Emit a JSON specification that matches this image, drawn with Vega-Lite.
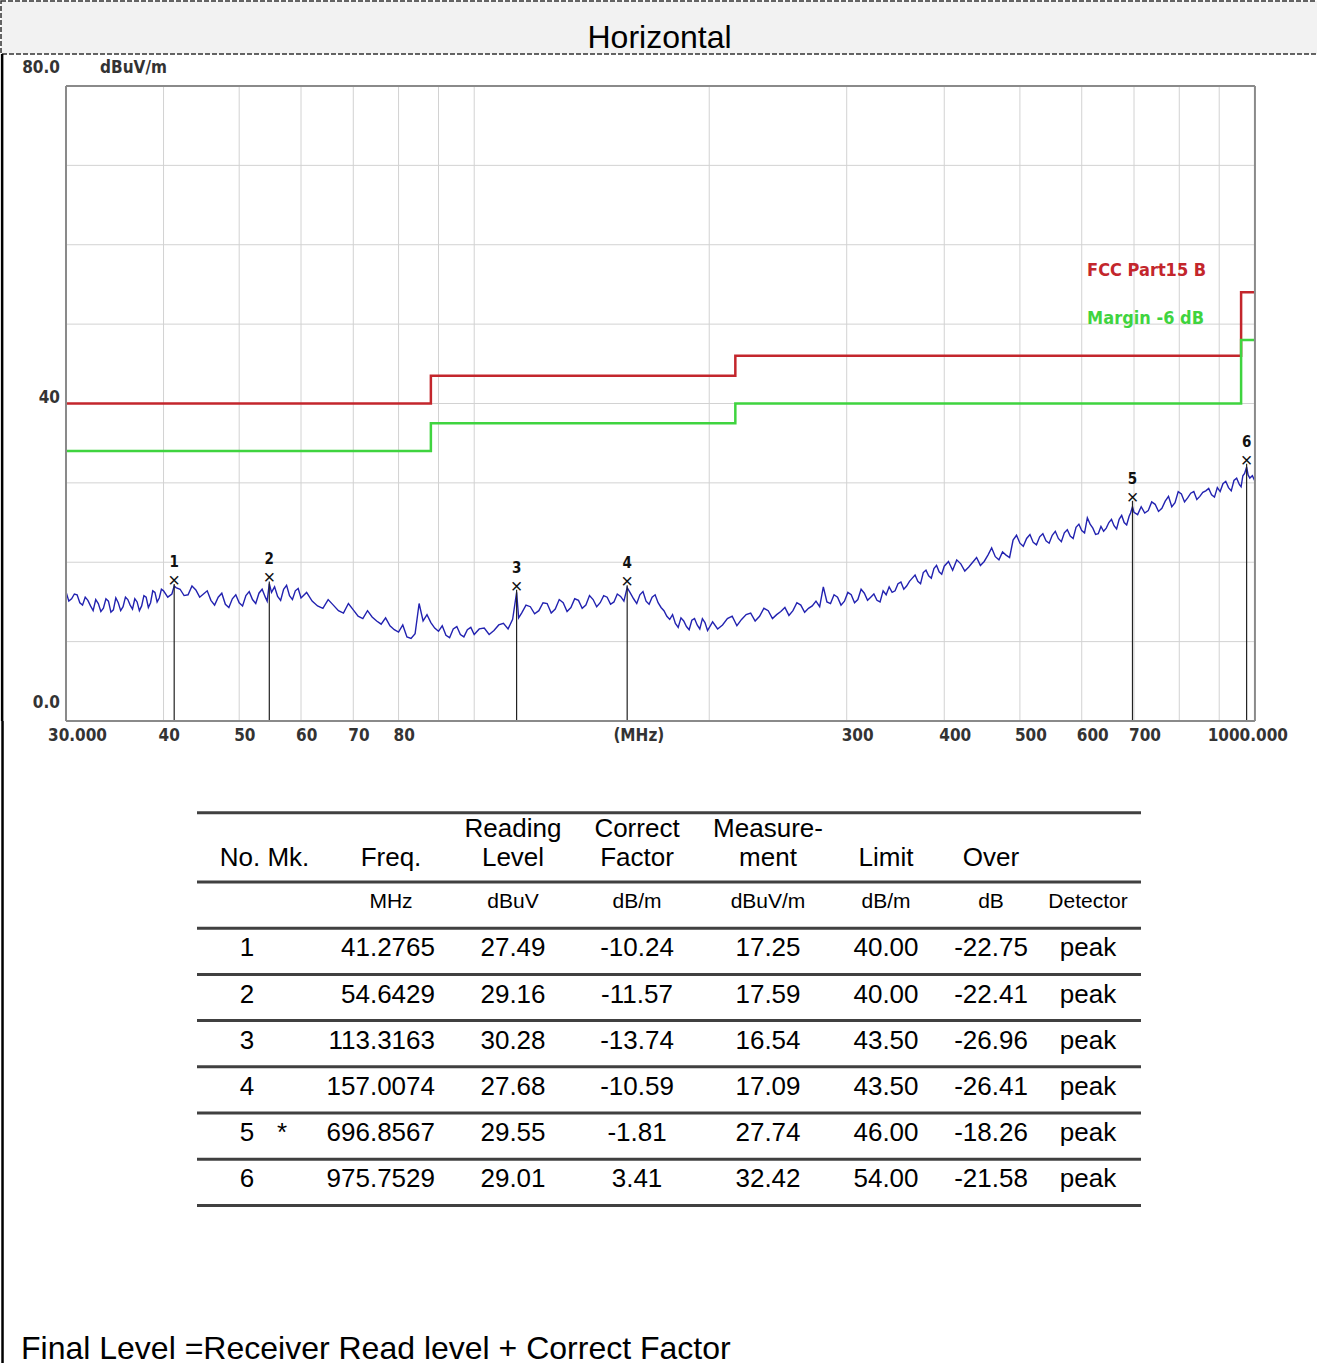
{
  "$schema": "https://vega.github.io/schema/vega-lite/v6.json",
  "padding": 0,
  "background": "white",
  "spacing": 0,
  "bounds": "flush",
  "config": {"view": {"stroke": null}, "font": "Liberation Sans"},
  "datasets": {
    "hgrid": [{"f": 30, "f2": 1000, "v": 10}, {"f": 30, "f2": 1000, "v": 20}, {"f": 30, "f2": 1000, "v": 30}, {"f": 30, "f2": 1000, "v": 40}, {"f": 30, "f2": 1000, "v": 50}, {"f": 30, "f2": 1000, "v": 60}, {"f": 30, "f2": 1000, "v": 70}],
    "vgrid": [{"f": 40, "v": 0, "v2": 80}, {"f": 50, "v": 0, "v2": 80}, {"f": 60, "v": 0, "v2": 80}, {"f": 70, "v": 0, "v2": 80}, {"f": 80, "v": 0, "v2": 80}, {"f": 90, "v": 0, "v2": 80}, {"f": 100, "v": 0, "v2": 80}, {"f": 200, "v": 0, "v2": 80}, {"f": 300, "v": 0, "v2": 80}, {"f": 400, "v": 0, "v2": 80}, {"f": 500, "v": 0, "v2": 80}, {"f": 600, "v": 0, "v2": 80}, {"f": 700, "v": 0, "v2": 80}, {"f": 800, "v": 0, "v2": 80}, {"f": 900, "v": 0, "v2": 80}],
    "frame": [
      {"f": 30, "f2": 1000, "v": 80, "v2": 80},
      {"f": 30, "f2": 1000, "v": 0, "v2": 0},
      {"f": 30, "f2": 30, "v": 0, "v2": 80},
      {"f": 1000, "f2": 1000, "v": 0, "v2": 80}
    ],
    "limits": [
      {"f": 30, "lim": 40, "mar": 34},
      {"f": 88, "lim": 43.5, "mar": 37.5},
      {"f": 216, "lim": 46, "mar": 40},
      {"f": 960, "lim": 54, "mar": 48},
      {"f": 1000, "lim": 54, "mar": 48}
    ],
    "legend": [
      {"f": 609.6, "v": 56.7, "t": "FCC Part15 B"},
      {"f": 609.6, "v": 50.6, "t": "Margin -6 dB"}
    ],
    "markers": [
      {"no": 1, "f": 41.2765, "v": 17.25, "base": 0},
      {"no": 2, "f": 54.6429, "v": 17.59, "base": 0},
      {"no": 3, "f": 113.3163, "v": 16.54, "base": 0},
      {"no": 4, "f": 157.0074, "v": 17.09, "base": 0},
      {"no": 5, "f": 696.8567, "v": 27.74, "base": 0},
      {"no": 6, "f": 975.7529, "v": 32.42, "base": 0}
    ],
    "trace": [
      {"f":30,"v":16.3},{"f":30.25,"v":15.1},{"f":30.5,"v":15.4},{"f":30.75,"v":16.0},{"f":31,"v":15.9},{"f":31.25,"v":14.9},{"f":31.5,"v":14.6},{"f":31.75,"v":15.6},{"f":32,"v":15.2},{"f":32.25,"v":14.5},{"f":32.5,"v":13.9},{"f":32.75,"v":15.3},{"f":33,"v":14.8},{"f":33.25,"v":13.8},{"f":33.5,"v":14.2},{"f":33.75,"v":15.4},{"f":34,"v":15.1},{"f":34.25,"v":13.7},{"f":34.5,"v":14.0},{"f":34.75,"v":15.5},{"f":35,"v":14.9},{"f":35.25,"v":13.9},{"f":35.5,"v":14.4},{"f":35.75,"v":15.6},{"f":36,"v":15.3},{"f":36.25,"v":14.6},{"f":36.5,"v":14.1},{"f":36.75,"v":15.4},{"f":37,"v":15.0},{"f":37.25,"v":13.9},{"f":37.5,"v":14.5},{"f":37.75,"v":15.8},{"f":38,"v":15.6},{"f":38.25,"v":14.3},{"f":38.5,"v":14.9},{"f":38.75,"v":16.4},{"f":39,"v":16.2},{"f":39.25,"v":15.0},{"f":39.5,"v":15.5},{"f":39.75,"v":16.6},{"f":40,"v":16.4},
      {"f":40.5,"v":15.6},{"f":41,"v":16.0},{"f":41.2765,"v":17.0},{"f":41.5,"v":16.8},{"f":42,"v":16.6},{"f":42.5,"v":15.8},{"f":43,"v":15.9},{"f":43.5,"v":17.0},{"f":44,"v":16.5},{"f":44.5,"v":15.6},{"f":45,"v":16.0},{"f":45.5,"v":16.4},{"f":46,"v":15.2},{"f":46.5,"v":14.6},{"f":47,"v":15.6},{"f":47.5,"v":16.1},{"f":48,"v":14.7},{"f":48.5,"v":14.3},{"f":49,"v":15.4},{"f":49.5,"v":15.9},{"f":50,"v":14.9},{"f":50.5,"v":14.5},{"f":51,"v":15.8},{"f":51.5,"v":16.3},{"f":52,"v":15.3},{"f":52.5,"v":14.8},{"f":53,"v":16.1},{"f":53.5,"v":16.6},{"f":54,"v":15.6},{"f":54.3,"v":15.1},{"f":54.6429,"v":17.3},{"f":55,"v":16.2},{"f":55.5,"v":16.9},{"f":56,"v":15.7},{"f":56.5,"v":15.2},{"f":57,"v":16.6},{"f":57.5,"v":17.1},{"f":58,"v":15.8},{"f":58.5,"v":15.3},{"f":59,"v":16.4},{"f":59.5,"v":16.7},{"f":60,"v":15.5},
      {"f":61,"v":16.2},{"f":62,"v":15.1},{"f":63,"v":14.5},{"f":64,"v":14.2},{"f":65,"v":15.3},{"f":66,"v":14.6},{"f":67,"v":13.9},{"f":68,"v":13.6},{"f":69,"v":14.8},{"f":70,"v":14.0},{"f":71,"v":13.2},{"f":72,"v":12.9},{"f":73,"v":13.9},{"f":74,"v":13.1},{"f":75,"v":12.6},{"f":76,"v":12.2},{"f":77,"v":13.0},{"f":78,"v":12.0},{"f":79,"v":11.5},{"f":80,"v":11.2},{"f":81,"v":12.1},{"f":82,"v":10.6},{"f":83,"v":10.4},{"f":84,"v":11.0},{"f":85,"v":14.8},{"f":86,"v":12.6},{"f":87,"v":13.4},{"f":88,"v":12.4},{"f":89,"v":11.7},{"f":90,"v":11.3},{"f":91,"v":12.0},{"f":92,"v":10.8},{"f":93,"v":10.5},{"f":94,"v":11.6},{"f":95,"v":11.9},{"f":96,"v":10.9},{"f":97,"v":10.6},{"f":98,"v":11.5},{"f":99,"v":11.8},{"f":100,"v":10.9},
      {"f":101.5,"v":11.6},{"f":103,"v":11.7},{"f":104.5,"v":10.9},{"f":106,"v":11.4},{"f":107.5,"v":12.1},{"f":109,"v":12.3},{"f":110.5,"v":11.6},{"f":112,"v":12.8},{"f":113.3163,"v":16.2},{"f":114,"v":13.0},{"f":115,"v":13.6},{"f":116.5,"v":14.6},{"f":118,"v":14.4},{"f":119.5,"v":13.5},{"f":121,"v":13.9},{"f":122.5,"v":14.9},{"f":124,"v":14.8},{"f":125.5,"v":13.6},{"f":127,"v":14.1},{"f":128.5,"v":15.3},{"f":130,"v":14.9},{"f":131.5,"v":13.8},{"f":133,"v":14.3},{"f":134.5,"v":15.4},{"f":136,"v":15.2},{"f":137.5,"v":14.2},{"f":139,"v":14.6},{"f":140.5,"v":15.8},{"f":142,"v":15.3},{"f":143.5,"v":14.4},{"f":145,"v":14.9},{"f":146.5,"v":15.8},{"f":148,"v":15.6},{"f":149.5,"v":14.7},{"f":151,"v":15.0},{"f":152.5,"v":16.0},{"f":154,"v":15.7},{"f":155.5,"v":15.1},{"f":157.0074,"v":16.8},{"f":158.5,"v":16.1},{"f":160,"v":15.4},{"f":161.5,"v":14.8},{"f":163,"v":15.9},{"f":164.5,"v":16.3},{"f":166,"v":15.1},{"f":167.5,"v":14.7},{"f":169,"v":15.6},{"f":170.5,"v":15.9},{"f":172,"v":14.9},{"f":173.5,"v":14.3},{"f":175,"v":13.9},{"f":176.5,"v":13.2},{"f":178,"v":12.8},{"f":179.5,"v":13.4},{"f":181,"v":12.3},{"f":182.5,"v":11.8},{"f":184,"v":13.0},{"f":185.5,"v":12.6},{"f":187,"v":11.9},{"f":188.5,"v":11.5},{"f":190,"v":12.7},{"f":191.5,"v":12.9},{"f":193,"v":12.1},{"f":194.5,"v":11.6},{"f":196,"v":12.9},{"f":197.5,"v":12.4},{"f":199,"v":11.4},
      {"f":202,"v":12.5},{"f":205,"v":11.6},{"f":208,"v":12.1},{"f":211,"v":12.9},{"f":214,"v":13.2},{"f":217,"v":12.0},{"f":220,"v":12.8},{"f":223,"v":13.4},{"f":226,"v":13.6},{"f":229,"v":12.6},{"f":232,"v":13.2},{"f":235,"v":14.2},{"f":238,"v":13.9},{"f":241,"v":12.9},{"f":244,"v":13.4},{"f":247,"v":13.8},{"f":250,"v":14.3},{"f":253,"v":13.3},{"f":256,"v":13.9},{"f":259,"v":14.9},{"f":262,"v":14.6},{"f":265,"v":13.7},{"f":268,"v":14.2},{"f":271,"v":14.5},{"f":274,"v":15.1},{"f":277,"v":14.4},{"f":280,"v":16.9},{"f":283,"v":15.0},{"f":286,"v":14.8},{"f":289,"v":15.9},{"f":292,"v":15.6},{"f":295,"v":14.6},{"f":298,"v":15.1},{"f":301,"v":16.2},{"f":304,"v":15.9},{"f":307,"v":14.9},{"f":310,"v":15.3},{"f":313,"v":16.6},{"f":316,"v":16.1},{"f":319,"v":15.2},{"f":322,"v":15.6},{"f":325,"v":16.0},{"f":328,"v":15.2},{"f":331,"v":15.0},{"f":334,"v":16.4},{"f":337,"v":15.9},{"f":340,"v":16.9},{"f":343,"v":16.2},{"f":346,"v":16.4},{"f":349,"v":17.3},{"f":352,"v":17.5},{"f":355,"v":16.6},{"f":358,"v":17.0},{"f":361,"v":17.6},{"f":364,"v":18.0},{"f":367,"v":18.4},{"f":370,"v":17.6},{"f":373,"v":17.3},{"f":376,"v":18.7},{"f":379,"v":19.0},{"f":382,"v":18.3},{"f":385,"v":18.0},{"f":388,"v":19.2},{"f":391,"v":19.6},{"f":394,"v":18.8},{"f":397,"v":18.5},{"f":400,"v":19.5},
      {"f":405,"v":20.1},{"f":410,"v":19.0},{"f":415,"v":20.3},{"f":420,"v":19.8},{"f":425,"v":18.9},{"f":430,"v":19.4},{"f":435,"v":20.0},{"f":440,"v":20.6},{"f":445,"v":19.6},{"f":450,"v":20.1},{"f":455,"v":20.9},{"f":460,"v":21.8},{"f":465,"v":20.7},{"f":470,"v":20.3},{"f":475,"v":21.3},{"f":480,"v":20.9},{"f":485,"v":20.6},{"f":490,"v":22.8},{"f":495,"v":23.4},{"f":500,"v":22.4},{"f":505,"v":22.0},{"f":510,"v":23.0},{"f":515,"v":23.5},{"f":520,"v":22.5},{"f":525,"v":22.2},{"f":530,"v":23.2},{"f":535,"v":23.6},{"f":540,"v":22.7},{"f":545,"v":22.4},{"f":550,"v":23.4},{"f":555,"v":23.9},{"f":560,"v":23.0},{"f":565,"v":22.6},{"f":570,"v":23.7},{"f":575,"v":24.1},{"f":580,"v":23.3},{"f":585,"v":23.0},{"f":590,"v":24.4},{"f":595,"v":24.8},{"f":600,"v":24.0},{"f":605,"v":23.7},{"f":610,"v":25.6},{"f":615,"v":24.8},{"f":620,"v":24.3},{"f":625,"v":23.5},{"f":630,"v":23.6},{"f":635,"v":24.5},{"f":640,"v":23.9},{"f":645,"v":24.3},{"f":650,"v":25.0},{"f":655,"v":25.4},{"f":660,"v":24.6},{"f":665,"v":24.2},{"f":670,"v":25.4},{"f":675,"v":25.9},{"f":680,"v":25.0},{"f":685,"v":24.7},{"f":690,"v":25.8},{"f":693,"v":26.2},{"f":696.8567,"v":27.0},{"f":700,"v":26.3},
      {"f":707.5,"v":26.0},{"f":715,"v":27.0},{"f":722.5,"v":26.2},{"f":730,"v":26.5},{"f":737.5,"v":27.6},{"f":745,"v":27.3},{"f":752.5,"v":26.4},{"f":760,"v":26.8},{"f":767.5,"v":27.7},{"f":775,"v":28.3},{"f":782.5,"v":27.0},{"f":790,"v":27.5},{"f":797.5,"v":28.9},{"f":805,"v":28.6},{"f":812.5,"v":27.6},{"f":820,"v":28.1},{"f":827.5,"v":28.7},{"f":835,"v":28.9},{"f":842.5,"v":27.9},{"f":850,"v":28.3},{"f":857.5,"v":28.8},{"f":865,"v":29.0},{"f":872.5,"v":29.3},{"f":880,"v":28.5},{"f":887.5,"v":28.2},{"f":895,"v":29.4},{"f":902.5,"v":28.9},{"f":910,"v":29.9},{"f":917.5,"v":30.2},{"f":925,"v":29.4},{"f":932.5,"v":29.0},{"f":940,"v":30.3},{"f":947.5,"v":30.6},{"f":955,"v":29.8},{"f":960,"v":29.5},{"f":965,"v":30.9},{"f":970,"v":31.2},{"f":975.7529,"v":32.0},{"f":980,"v":31.0},{"f":985,"v":30.6},{"f":992.5,"v":30.9},{"f":1000,"v":30.2}
    ],
    "xlabels": [{"f": 40, "v": 0, "l": "40"}, {"f": 50, "v": 0, "l": "50"}, {"f": 60, "v": 0, "l": "60"}, {"f": 70, "v": 0, "l": "70"}, {"f": 80, "v": 0, "l": "80"}, {"f": 300, "v": 0, "l": "300"}, {"f": 400, "v": 0, "l": "400"}, {"f": 500, "v": 0, "l": "500"}, {"f": 600, "v": 0, "l": "600"}, {"f": 700, "v": 0, "l": "700"}],
    "cells": [
      {"r":1,"c":0,"t":"1"},{"r":1,"c":3,"t":"27.49"},{"r":1,"c":4,"t":"-10.24"},{"r":1,"c":5,"t":"17.25"},{"r":1,"c":6,"t":"40.00"},{"r":1,"c":7,"t":"-22.75"},{"r":1,"c":8,"t":"peak"},
      {"r":2,"c":0,"t":"2"},{"r":2,"c":3,"t":"29.16"},{"r":2,"c":4,"t":"-11.57"},{"r":2,"c":5,"t":"17.59"},{"r":2,"c":6,"t":"40.00"},{"r":2,"c":7,"t":"-22.41"},{"r":2,"c":8,"t":"peak"},
      {"r":3,"c":0,"t":"3"},{"r":3,"c":3,"t":"30.28"},{"r":3,"c":4,"t":"-13.74"},{"r":3,"c":5,"t":"16.54"},{"r":3,"c":6,"t":"43.50"},{"r":3,"c":7,"t":"-26.96"},{"r":3,"c":8,"t":"peak"},
      {"r":4,"c":0,"t":"4"},{"r":4,"c":3,"t":"27.68"},{"r":4,"c":4,"t":"-10.59"},{"r":4,"c":5,"t":"17.09"},{"r":4,"c":6,"t":"43.50"},{"r":4,"c":7,"t":"-26.41"},{"r":4,"c":8,"t":"peak"},
      {"r":5,"c":0,"t":"5"},{"r":5,"c":1,"t":"*"},{"r":5,"c":3,"t":"29.55"},{"r":5,"c":4,"t":"-1.81"},{"r":5,"c":5,"t":"27.74"},{"r":5,"c":6,"t":"46.00"},{"r":5,"c":7,"t":"-18.26"},{"r":5,"c":8,"t":"peak"},
      {"r":6,"c":0,"t":"6"},{"r":6,"c":3,"t":"29.01"},{"r":6,"c":4,"t":"3.41"},{"r":6,"c":5,"t":"32.42"},{"r":6,"c":6,"t":"54.00"},{"r":6,"c":7,"t":"-21.58"},{"r":6,"c":8,"t":"peak"}
    ],
    "freqs": [
      {"r":1,"c":2,"t":"41.2765"},{"r":2,"c":2,"t":"54.6429"},{"r":3,"c":2,"t":"113.3163"},
      {"r":4,"c":2,"t":"157.0074"},{"r":5,"c":2,"t":"696.8567"},{"r":6,"c":2,"t":"975.7529"}
    ],
    "heads": [
      {"c": 0.5, "r": -1, "t": "No.  Mk."},
      {"c": 2, "r": -1, "t": "Freq."},
      {"c": 3, "r": -1, "t": "Level"},
      {"c": 4, "r": -1, "t": "Factor"},
      {"c": 5, "r": -1, "t": "ment"},
      {"c": 6, "r": -1, "t": "Limit"},
      {"c": 7, "r": -1, "t": "Over"}
    ],
    "heads_top": [
      {"c": 3, "r": -1, "t": "Reading"},
      {"c": 4, "r": -1, "t": "Correct"},
      {"c": 5, "r": -1, "t": "Measure-"}
    ],
    "units": [
      {"c": 2, "r": 0, "t": "MHz"},
      {"c": 3, "r": 0, "t": "dBuV"},
      {"c": 4, "r": 0, "t": "dB/m"},
      {"c": 5, "r": 0, "t": "dBuV/m"},
      {"c": 6, "r": 0, "t": "dB/m"},
      {"c": 7, "r": 0, "t": "dB"},
      {"c": 8, "r": 0, "t": "Detector"}
    ],
    "footer": [{"c": -2, "r": 9.6, "t": "Final Level =Receiver Read level + Correct Factor"}],
    "tlines": [{"r": -2, "a": -1, "b": 9}, {"r": -0.5, "a": -1, "b": 9}, {"r": 0.5, "a": -1, "b": 9}, {"r": 1.5, "a": -1, "b": 9}, {"r": 2.5, "a": -1, "b": 9}, {"r": 3.5, "a": -1, "b": 9}, {"r": 4.5, "a": -1, "b": 9}, {"r": 5.5, "a": -1, "b": 9}, {"r": 6.5, "a": -1, "b": 9}]
  },
  "vconcat": [
    {
      "width": 1317,
      "height": 53,
      "view": {"fill": "#f2f2f2", "stroke": "#333333", "strokeWidth": 1.5, "strokeDash": [5, 2]},
      "data": {"values": [{"title": "Horizontal"}]},
      "mark": {"type": "text", "font": "Liberation Sans", "fontSize": 32, "dy": 10, "color": "#000000", "baseline": "middle"},
      "encoding": {"text": {"field": "title", "type": "nominal"}}
    },
    {
      "width": 1317,
      "height": 667,
      "layer": [
        {
          "data": {"name": "hgrid"},
          "mark": {"type": "rule", "color": "#d2d2d2", "strokeWidth": 1},
          "encoding": {
            "x": {"field": "f", "type": "quantitative", "scale": {"type": "log", "domain": [24.767, 1204.4], "nice": false, "zero": false}, "axis": null},
            "x2": {"field": "f2"},
            "y": {"field": "v", "type": "quantitative", "scale": {"domain": [0, 84.03], "nice": false, "zero": false}, "axis": null}
          }
        },
        {
          "data": {"name": "vgrid"},
          "mark": {"type": "rule", "color": "#d2d2d2", "strokeWidth": 1},
          "encoding": {
            "x": {"field": "f", "type": "quantitative", "axis": null},
            "y": {"field": "v", "type": "quantitative", "axis": null},
            "y2": {"field": "v2"}
          }
        },
        {
          "data": {"values": [{"f": 24.85, "v": 0, "v2": 84.03}]},
          "mark": {"type": "rule", "color": "#000000", "strokeWidth": 2.5},
          "encoding": {
            "x": {"field": "f", "type": "quantitative", "axis": null},
            "y": {"field": "v", "type": "quantitative", "axis": null},
            "y2": {"field": "v2"}
          }
        },
        {
          "data": {"name": "limits"},
          "mark": {"type": "line", "interpolate": "step-after", "color": "#c3262c", "strokeWidth": 2.5},
          "encoding": {
            "x": {"field": "f", "type": "quantitative", "axis": null},
            "y": {"field": "lim", "type": "quantitative", "axis": null}
          }
        },
        {
          "data": {"name": "limits"},
          "mark": {"type": "line", "interpolate": "step-after", "color": "#3fd43f", "strokeWidth": 2.5},
          "encoding": {
            "x": {"field": "f", "type": "quantitative", "axis": null},
            "y": {"field": "mar", "type": "quantitative", "axis": null}
          }
        },
        {
          "data": {"name": "trace"},
          "mark": {"type": "line", "color": "#2222b0", "strokeWidth": 1.4},
          "encoding": {
            "x": {"field": "f", "type": "quantitative", "axis": null},
            "y": {"field": "v", "type": "quantitative", "axis": null}
          }
        },
        {
          "data": {"name": "markers"},
          "mark": {"type": "rule", "color": "#222222", "strokeWidth": 1.2},
          "encoding": {
            "x": {"field": "f", "type": "quantitative", "axis": null},
            "y": {"field": "base", "type": "quantitative", "axis": null},
            "y2": {"field": "v"}
          }
        },
        {
          "data": {"name": "markers"},
          "mark": {"type": "text", "text": "×", "font": "Liberation Sans", "fontSize": 20, "dy": -3, "baseline": "middle", "color": "#111111"},
          "encoding": {
            "x": {"field": "f", "type": "quantitative", "axis": null},
            "y": {"field": "v", "type": "quantitative", "axis": null}
          }
        },
        {
          "data": {"name": "markers"},
          "mark": {"type": "text", "font": "Liberation Sans Narrow, DejaVu Sans Condensed, sans-serif", "fontWeight": "bold", "fontSize": 15, "dy": -22, "baseline": "middle", "color": "#111111"},
          "encoding": {
            "x": {"field": "f", "type": "quantitative", "axis": null},
            "y": {"field": "v", "type": "quantitative", "axis": null},
            "text": {"field": "no", "type": "nominal"}
          }
        },
        {
          "data": {"name": "legend"},
          "mark": {"type": "text", "font": "Liberation Sans Narrow, DejaVu Sans Condensed, sans-serif", "fontWeight": "bold", "fontSize": 18, "align": "left", "baseline": "middle"},
          "encoding": {
            "x": {"field": "f", "type": "quantitative", "axis": null},
            "y": {"field": "v", "type": "quantitative", "axis": null},
            "text": {"field": "t", "type": "nominal"},
            "color": {"field": "t", "type": "nominal", "scale": {"domain": ["FCC Part15 B", "Margin -6 dB"], "range": ["#c3262c", "#3fd43f"]}, "legend": null}
          }
        },
        {
          "data": {"name": "frame"},
          "mark": {"type": "rule", "color": "#8a8a8a", "strokeWidth": 2},
          "encoding": {
            "x": {"field": "f", "type": "quantitative", "axis": null},
            "x2": {"field": "f2"},
            "y": {"field": "v", "type": "quantitative", "axis": null},
            "y2": {"field": "v2"}
          }
        },
        {
          "data": {"name": "xlabels"},
          "mark": {"type": "text", "font": "Liberation Sans Narrow, DejaVu Sans Condensed, sans-serif", "fontWeight": "bold", "fontSize": 17, "align": "left", "baseline": "middle", "dx": -5, "dy": 15, "color": "#333333"},
          "encoding": {
            "x": {"field": "f", "type": "quantitative", "axis": null},
            "y": {"field": "v", "type": "quantitative", "axis": null},
            "text": {"field": "l", "type": "nominal"}
          }
        },
        {
          "data": {"values": [{"f": 30, "v": 0, "l": "30.000"}]},
          "mark": {"type": "text", "font": "Liberation Sans Narrow, DejaVu Sans Condensed, sans-serif", "fontWeight": "bold", "fontSize": 17, "align": "left", "baseline": "middle", "dx": -18, "dy": 15, "color": "#333333"},
          "encoding": {
            "x": {"field": "f", "type": "quantitative", "axis": null},
            "y": {"field": "v", "type": "quantitative", "axis": null},
            "text": {"field": "l", "type": "nominal"}
          }
        },
        {
          "data": {"values": [{"f": 1000, "v": 0, "l": "1000.000"}]},
          "mark": {"type": "text", "font": "Liberation Sans Narrow, DejaVu Sans Condensed, sans-serif", "fontWeight": "bold", "fontSize": 17, "align": "right", "baseline": "middle", "dx": 33, "dy": 15, "color": "#333333"},
          "encoding": {
            "x": {"field": "f", "type": "quantitative", "axis": null},
            "y": {"field": "v", "type": "quantitative", "axis": null},
            "text": {"field": "l", "type": "nominal"}
          }
        },
        {
          "data": {"values": [{"f": 162.5, "v": 0, "l": "(MHz)"}]},
          "mark": {"type": "text", "font": "Liberation Sans Narrow, DejaVu Sans Condensed, sans-serif", "fontWeight": "bold", "fontSize": 17, "align": "center", "baseline": "middle", "dy": 15, "color": "#333333"},
          "encoding": {
            "x": {"field": "f", "type": "quantitative", "axis": null},
            "y": {"field": "v", "type": "quantitative", "axis": null},
            "text": {"field": "l", "type": "nominal"}
          }
        },
        {
          "data": {"values": [{"f": 29.47, "v": 80, "l": "80.0"}, {"f": 29.47, "v": 0, "l": "0.0"}]},
          "mark": {"type": "text", "font": "Liberation Sans Narrow, DejaVu Sans Condensed, sans-serif", "fontWeight": "bold", "fontSize": 17, "align": "right", "baseline": "middle", "dy": -18, "color": "#333333"},
          "encoding": {
            "x": {"field": "f", "type": "quantitative", "axis": null},
            "y": {"field": "v", "type": "quantitative", "axis": null},
            "text": {"field": "l", "type": "nominal"}
          }
        },
        {
          "data": {"values": [{"f": 29.47, "v": 40, "l": "40"}]},
          "mark": {"type": "text", "font": "Liberation Sans Narrow, DejaVu Sans Condensed, sans-serif", "fontWeight": "bold", "fontSize": 17, "align": "right", "baseline": "middle", "dy": -5, "color": "#333333"},
          "encoding": {
            "x": {"field": "f", "type": "quantitative", "axis": null},
            "y": {"field": "v", "type": "quantitative", "axis": null},
            "text": {"field": "l", "type": "nominal"}
          }
        },
        {
          "data": {"values": [{"f": 33.17, "v": 80, "l": "dBuV/m"}]},
          "mark": {"type": "text", "font": "Liberation Sans Narrow, DejaVu Sans Condensed, sans-serif", "fontWeight": "bold", "fontSize": 17, "align": "left", "baseline": "middle", "dy": -18, "color": "#333333"},
          "encoding": {
            "x": {"field": "f", "type": "quantitative", "axis": null},
            "y": {"field": "v", "type": "quantitative", "axis": null},
            "text": {"field": "l", "type": "nominal"}
          }
        }
      ]
    },
    {
      "width": 1317,
      "height": 643,
      "layer": [
        {
          "data": {"name": "tlines"},
          "mark": {"type": "rule", "color": "#404040", "strokeWidth": 3},
          "encoding": {
            "x": {"field": "a", "type": "quantitative", "scale": {"domain": [-2, -1, 0, 1, 2, 3, 4, 5, 6, 7, 8, 9], "range": [20, 196, 246, 281, 390, 512, 636, 767, 885, 990, 1087, 1140], "nice": false, "zero": false}, "axis": null},
            "x2": {"field": "b"},
            "y": {"field": "r", "type": "quantitative", "scale": {"domain": [-3.985, 9.933], "range": [0, 643], "nice": false, "zero": false}, "axis": null}
          }
        },
        {
          "data": {"values": [{"a": -2.105, "r": -3.985, "r2": 9.933}]},
          "mark": {"type": "rule", "color": "#000000", "strokeWidth": 2.5},
          "encoding": {
            "x": {"field": "a", "type": "quantitative", "axis": null},
            "y": {"field": "r", "type": "quantitative", "axis": null},
            "y2": {"field": "r2"}
          }
        },
        {
          "data": {"name": "cells"},
          "mark": {"type": "text", "font": "Liberation Sans", "fontSize": 26, "baseline": "middle", "align": "center", "dy": -3, "color": "#000000"},
          "encoding": {
            "x": {"field": "c", "type": "quantitative", "axis": null},
            "y": {"field": "r", "type": "quantitative", "axis": null},
            "text": {"field": "t", "type": "nominal"}
          }
        },
        {
          "data": {"name": "freqs"},
          "mark": {"type": "text", "font": "Liberation Sans", "fontSize": 26, "baseline": "middle", "align": "right", "dx": 44, "dy": -3, "color": "#000000"},
          "encoding": {
            "x": {"field": "c", "type": "quantitative", "axis": null},
            "y": {"field": "r", "type": "quantitative", "axis": null},
            "text": {"field": "t", "type": "nominal"}
          }
        },
        {
          "data": {"name": "heads"},
          "mark": {"type": "text", "font": "Liberation Sans", "fontSize": 26, "baseline": "bottom", "align": "center", "dy": 12, "color": "#000000"},
          "encoding": {
            "x": {"field": "c", "type": "quantitative", "axis": null},
            "y": {"field": "r", "type": "quantitative", "axis": null},
            "text": {"field": "t", "type": "nominal"}
          }
        },
        {
          "data": {"name": "heads_top"},
          "mark": {"type": "text", "font": "Liberation Sans", "fontSize": 26, "baseline": "bottom", "align": "center", "dy": -17, "color": "#000000"},
          "encoding": {
            "x": {"field": "c", "type": "quantitative", "axis": null},
            "y": {"field": "r", "type": "quantitative", "axis": null},
            "text": {"field": "t", "type": "nominal"}
          }
        },
        {
          "data": {"name": "units"},
          "mark": {"type": "text", "font": "Liberation Sans", "fontSize": 21, "baseline": "middle", "align": "center", "dy": -3, "color": "#000000"},
          "encoding": {
            "x": {"field": "c", "type": "quantitative", "axis": null},
            "y": {"field": "r", "type": "quantitative", "axis": null},
            "text": {"field": "t", "type": "nominal"}
          }
        },
        {
          "data": {"name": "footer"},
          "mark": {"type": "text", "font": "Liberation Sans", "fontSize": 32, "baseline": "middle", "align": "left", "color": "#000000"},
          "encoding": {
            "x": {"field": "c", "type": "quantitative", "axis": null},
            "y": {"field": "r", "type": "quantitative", "axis": null},
            "text": {"field": "t", "type": "nominal"}
          }
        }
      ]
    }
  ]
}
